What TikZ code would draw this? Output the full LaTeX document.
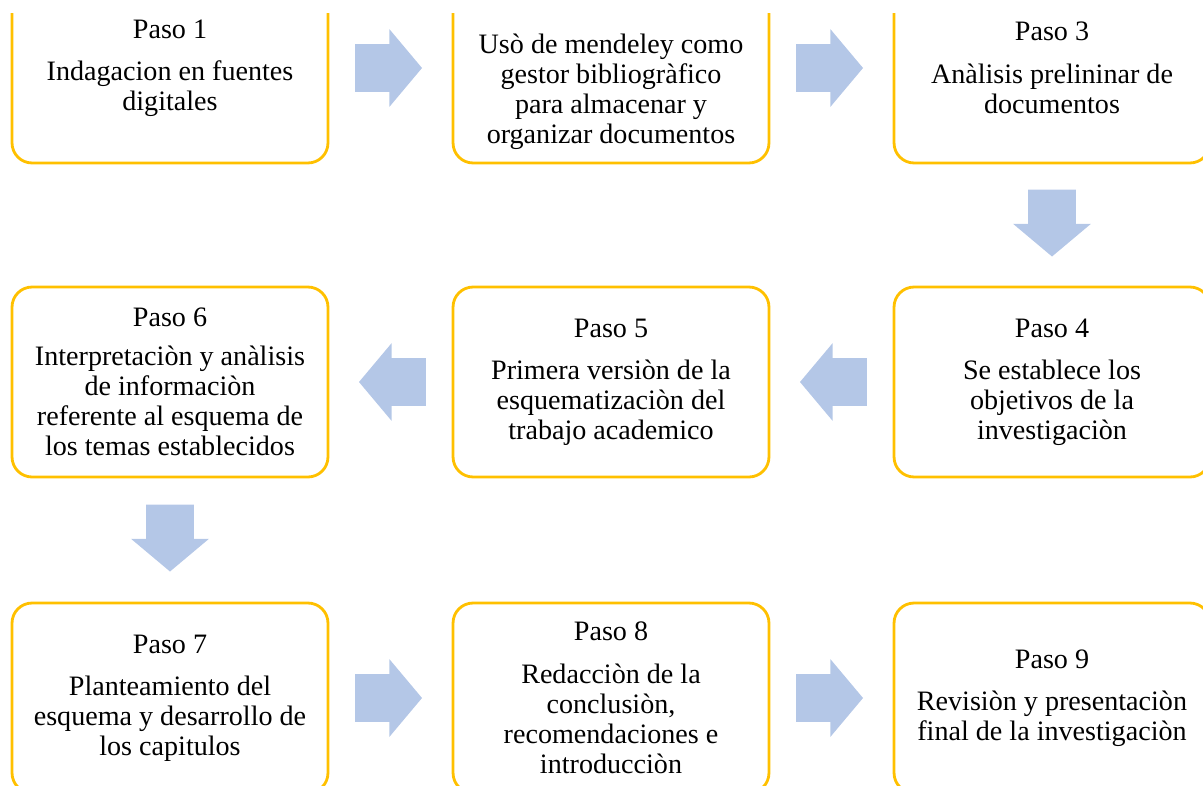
\documentclass[tikz,border=0pt]{standalone}
\usepackage{fontspec}
\setmainfont{Liberation Serif}
\usepackage{xcolor}
\usetikzlibrary{shapes.arrows}

\definecolor{borde}{HTML}{FFC000}
\definecolor{flechaazul}{HTML}{B4C7E7}

\begin{document}
\begin{tikzpicture}[x=0.02cm, y=-0.02cm,
  caja/.style={draw=borde, line width=1.6pt, rounded corners=0.4cm,
    minimum width=6.32cm, minimum height=3.8cm, align=center, inner sep=0pt,
    font=\fontsize{16pt}{17.1pt}\selectfont},
  texto/.style={align=center, inner sep=0pt, font=\fontsize{16pt}{17.1pt}\selectfont},
  bloque/.style={single arrow, fill=flechaazul, draw=none,
    inner xsep=0pt, inner ysep=0.47cm, minimum height=1.34cm,
    single arrow head extend=0.3cm, single arrow tip angle=100,
    rotate=#1, xshift=-0.24cm},
  bloque/.default=0]

\useasboundingbox (0,0) rectangle (1203,785);

%boxes
\begin{scope}
\clip (0,13) rectangle (1203,800);
\node[caja] (b1) at (170,68) {Paso 1\\[7pt] Indagacion en fuentes\\ digitales};
\node[caja] (b2) at (611,68) {};
\node[caja] (b3) at (1052,68) {Paso 3\\[7pt] Anàlisis prelininar de\\ documentos};

\node[caja] (b6) at (170,382) {Paso 6\\[5pt] Interpretaciòn y anàlisis\\ de informaciòn\\ referente al esquema de\\ los temas establecidos};
\node[caja] (b5) at (611,382) {Paso 5\\[7pt] Primera versiòn de la\\ esquematizaciòn del\\ trabajo academico};
\node[caja] (b4) at (1052,382) {Paso 4\\[7pt] Se establece los\\ objetivos de la\\ investigaciòn};

\node[caja] (b7) at (170,698) {Paso 7\\[7pt] Planteamiento del\\ esquema y desarrollo de\\ los capitulos};
\node[caja] (b8) at (611,698) {Paso 8\\[7pt] Redacciòn de la\\ conclusiòn,\\ recomendaciones e\\ introducciòn};
\node[caja] (b9) at (1052,698) {Paso 9\\[7pt] Revisiòn y presentaciòn\\ final de la investigaciòn};
\end{scope}

%text of box 2
\node[texto] (t2) at (611,92) {Usò de mendeley como\\ gestor bibliogràfico\\ para almacenar y\\ organizar documentos};

%arrows
\path (b1) -- node[bloque] (a12) {} (b2);
\path (b2) -- node[bloque] (a23) {} (b3);
\path (b3) -- node[bloque=-90] (a34) {} (b4);
\path (b4) -- node[bloque=180] (a45) {} (b5);
\path (b5) -- node[bloque=180] (a56) {} (b6);
\path (b6) -- node[bloque=-90] (a67) {} (b7);
\path (b7) -- node[bloque] (a78) {} (b8);
\path (b8) -- node[bloque] (a89) {} (b9);

\end{tikzpicture}
\end{document}
